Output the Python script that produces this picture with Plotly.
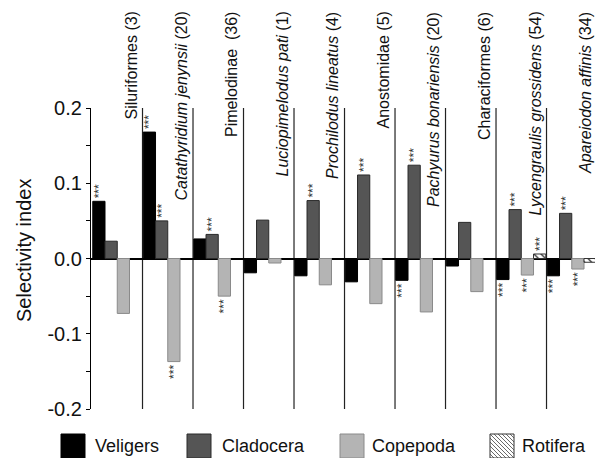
import plotly.graph_objects as go

# ---------------- data ----------------
groups = ["Siluriformes (3)", "<i>Catathyridium jenynsii</i> (20)", "Pimelodinae&nbsp; (36)",
          "<i>Luciopimelodus pati</i> (1)", "<i>Prochilodus lineatus</i> (4)", "Anostomidae (5)",
          "<i>Pachyurus bonariensis</i> (20)", "Characiformes (6)",
          "<i>Lycengraulis grossidens</i> (54)", "<i>Apareiodon affinis</i> (34)"]
series = ["Veligers", "Cladocera", "Copepoda", "Rotifera"]
veligers = [0.076, 0.168, 0.026, -0.019, -0.023, -0.031, -0.029, -0.010, -0.028, -0.023]
cladocera = [0.023, 0.050, 0.032, 0.051, 0.077, 0.111, 0.124, 0.048, 0.065, 0.060]
copepoda = [-0.073, -0.137, -0.050, -0.006, -0.035, -0.060, -0.071, -0.044, -0.022, -0.014]
rotifera = [None, None, None, None, None, None, None, None, 0.006, -0.005]
veligers_sig = ["***", "***", "", "", "", "", "***", "", "***", "***"]
cladocera_sig = ["", "***", "***", "", "***", "***", "***", "", "***", "***"]
copepoda_sig = ["", "***", "***", "", "", "", "", "", "***", "***"]
rotifera_sig = ["", "", "", "", "", "", "", "", "***", ""]
tick_vals = [-0.2, -0.15, -0.1, -0.05, 0.0, 0.05, 0.1, 0.15, 0.2]
tick_text = ["-0.2", "", "-0.1", "", "0.0", "", "0.1", "", "0.2"]

# ---------------- style ----------------
W, H = 595, 458
FONT = "Arial, Liberation Sans, sans-serif"
fills = ["#000000", "#555555", "#b4b4b4", "#ffffff"]
lines = ["#000000", "#2a2a2a", "#8a8a8a", "#333333"]
X_RANGE = [-0.52, 9.46]

def px(xp):
    return xp / W

def py(yp):
    return (H - yp) / H

x_idx = list(range(len(groups)))
fig = go.Figure()
all_vals = [veligers, cladocera, copepoda, rotifera]
all_sig = [veligers_sig, cladocera_sig, copepoda_sig, rotifera_sig]
for k, name in enumerate(series):
    marker = dict(color=fills[k], line=dict(color=lines[k], width=1))
    if name == "Rotifera":
        marker["pattern"] = dict(shape="\\", size=5, solidity=0.25, fgcolor="#222222", bgcolor="#ffffff")
    fig.add_trace(go.Bar(
        x=x_idx, y=all_vals[k], name=name, marker=marker,
        text=all_sig[k], textposition="outside", textangle=-90,
        constraintext="none", cliponaxis=False,
        textfont=dict(size=12, color="#333333", family=FONT),
        showlegend=False, hoverinfo="skip",
    ))

shapes = []
for i in range(len(groups) - 1):
    shapes.append(dict(type="line", xref="x", yref="y", x0=i + 0.5, x1=i + 0.5,
                       y0=-0.2, y1=0.2, line=dict(color="#222222", width=1.2), layer="below"))

annotations = []
unit_px = (W - 91) / (X_RANGE[1] - X_RANGE[0])
for i, g in enumerate(groups):
    annotations.append(dict(x=i + 0.45, xref="x", y=py(10), yref="paper", text=g,
                            textangle=-90, xanchor="right", yanchor="top", showarrow=False,
                            xshift=0.05 * unit_px - 1.5,
                            font=dict(size=16, color="#111111", family=FONT)))

# y-axis title
annotations.append(dict(x=px(24), y=py(251), xref="paper", yref="paper", text="Selectivity index",
                        textangle=-90, showarrow=False, xanchor="center", yanchor="middle",
                        font=dict(size=20, color="#111111", family=FONT)))

# manual legend
sw_x = [61, 187, 340, 490]
txt_x = [93, 220, 370, 520]
for k, name in enumerate(series):
    x0, x1 = sw_x[k], sw_x[k] + 24
    y0, y1 = 434, 458
    shapes.append(dict(type="rect", xref="paper", yref="paper", x0=px(x0), x1=px(x1),
                       y0=py(y1), y1=py(y0), fillcolor=fills[k],
                       line=dict(color=lines[k], width=1)))
    if name == "Rotifera":
        s = 24
        for c in range(-20, 24, 4):
            if c >= 0:
                u0, v0, u1, v1 = c, 0, s, s - c
            else:
                u0, v0, u1, v1 = 0, -c, s + c, s
            shapes.append(dict(type="line", xref="paper", yref="paper",
                               x0=px(x0 + u0), y0=py(y0 + v0), x1=px(x0 + u1), y1=py(y0 + v1),
                               line=dict(color="#444444", width=0.8)))
    annotations.append(dict(x=px(txt_x[k]), y=py(446), xref="paper", yref="paper", text=name,
                            showarrow=False, xanchor="left", yanchor="middle",
                            font=dict(size=18, color="#111111", family=FONT)))

fig.update_layout(
    template="none",
    width=W, height=H, margin=dict(l=0, r=0, t=0, b=0, pad=0, autoexpand=False),
    paper_bgcolor="white", plot_bgcolor="white",
    barmode="group", bargap=0.03, bargroupgap=0,
    font=dict(family=FONT, color="#111111"),
    shapes=shapes, annotations=annotations, showlegend=False, hovermode=False,
    xaxis=dict(domain=[px(91), 1], range=X_RANGE, visible=False, fixedrange=True, automargin=False),
    yaxis=dict(domain=[py(409), py(108)], range=[-0.2, 0.2], showgrid=False, automargin=False,
               fixedrange=True,
               zeroline=True, zerolinecolor="#000000", zerolinewidth=1.5,
               showline=True, linecolor="#000000", linewidth=1.2,
               ticks="outside", ticklen=4, tickcolor="#000000",
               tickvals=tick_vals, ticktext=tick_text,
               tickfont=dict(size=20, color="#111111", family=FONT)),
)

fig.write_html("out.html", config={"displayModeBar": False},
               post_script="document.body.style.margin='0';document.body.style.overflow='hidden';")
